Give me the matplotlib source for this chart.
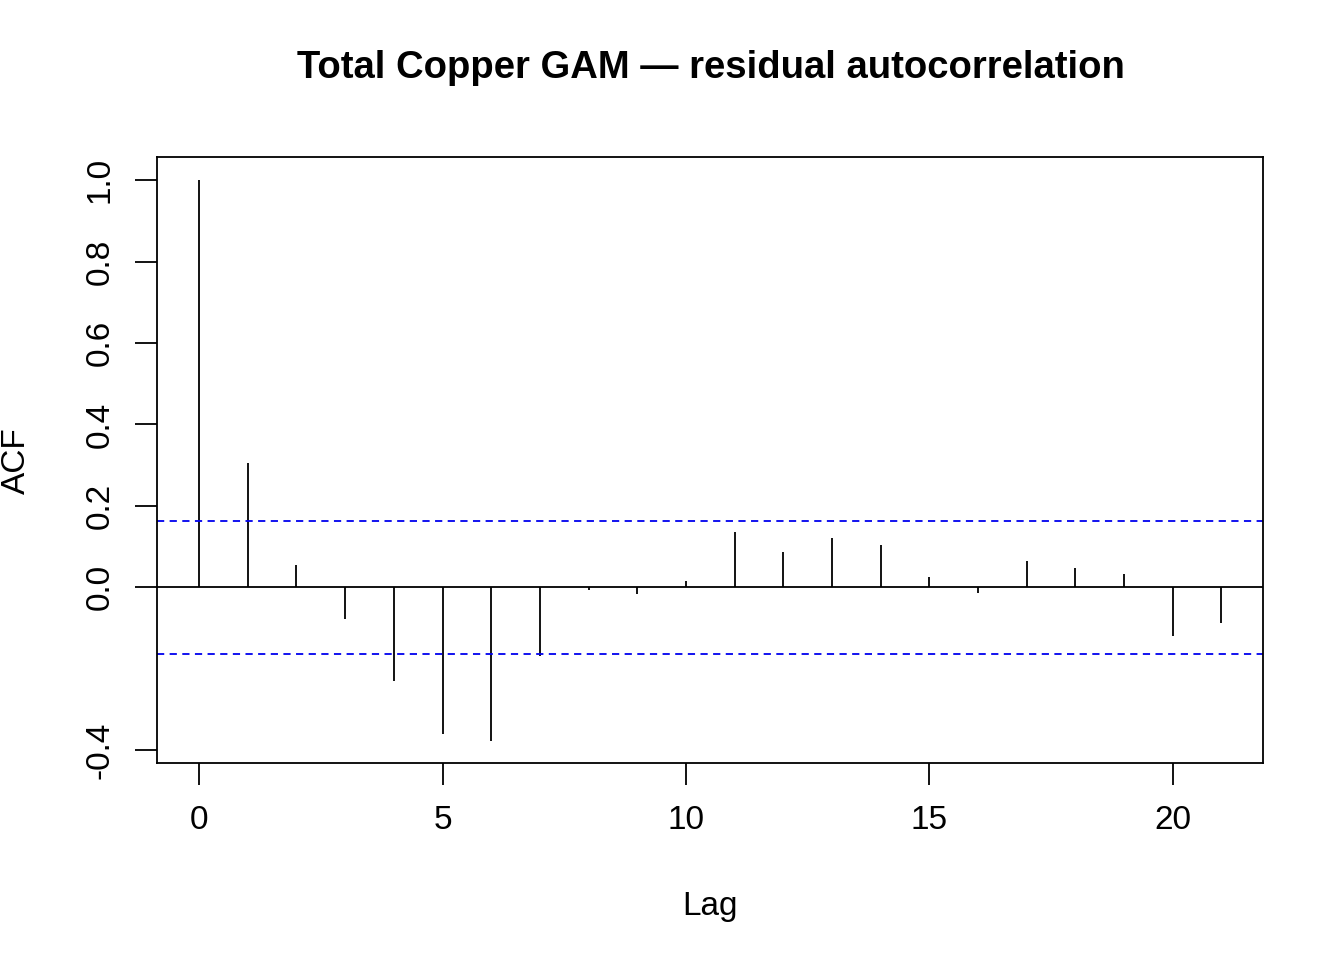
import matplotlib
matplotlib.use("Agg")
import matplotlib.pyplot as plt

plt.rcParams['font.family'] = ['Liberation Sans', 'DejaVu Sans']

lags = list(range(22))
acf = [1.0, 0.306, 0.056, -0.078, -0.230, -0.360, -0.377, -0.169, -0.007, -0.017,
       0.015, 0.135, 0.086, 0.120, 0.103, 0.025, -0.015, 0.064, 0.047, 0.032,
       -0.120, -0.088]
ci = 0.164

fig = plt.figure(figsize=(13.44, 9.6), dpi=100)
ax = fig.add_axes([0.117, 0.205, 0.823, 0.631])

ax.vlines(lags, 0, acf, color='black', linewidth=1.3)
ax.axhline(0, color='black', linewidth=1.3)
ax.axhline(ci, color='#0000ee', linestyle=(0, (4, 3)), linewidth=1.3)
ax.axhline(-ci, color='#0000ee', linestyle=(0, (4, 3)), linewidth=1.3)

ax.set_xlim(-0.86, 21.86)
ax.set_ylim(-0.432, 1.056)
ax.set_xticks([0, 5, 10, 15, 20])
ax.set_yticks([-0.4, 0.0, 0.2, 0.4, 0.6, 0.8, 1.0])
ax.set_yticklabels(['-0.4', '0.0', '0.2', '0.4', '0.6', '0.8', '1.0'],
                   rotation=90, va='center')
ax.tick_params(length=16, width=1.3, labelsize=24, pad=14)
for s in ax.spines.values():
    s.set_linewidth(1.3)

ax.set_xlabel('Lag', fontsize=24, labelpad=40)
ax.set_ylabel('ACF', fontsize=24, labelpad=38)
fig.suptitle('Total Copper GAM \u2014 residual autocorrelation',
             fontsize=27.5, fontweight='bold', x=0.529, y=0.948)

fig.savefig('out.png', dpi=100)
